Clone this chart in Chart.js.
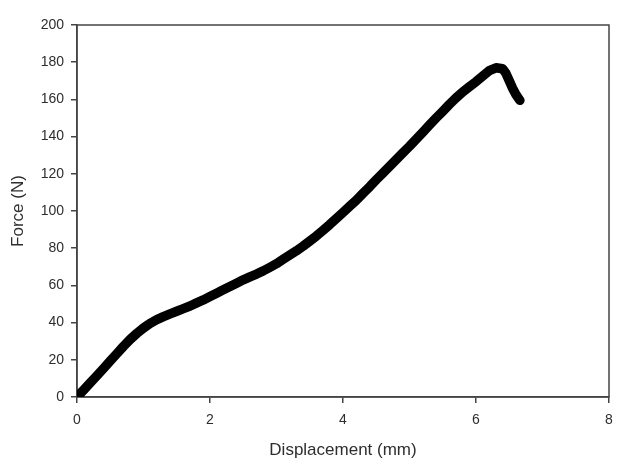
<!DOCTYPE html>
<html>
<head>
<meta charset="utf-8">
<title>Force vs Displacement</title>
<script src="https://cdn.jsdelivr.net/npm/chart.js@4.4.1/dist/chart.umd.min.js"></script>
<style>
    html, body { margin: 0; padding: 0; background: #ffffff; }
    #wrap { width: 624px; height: 469px; }
</style>
</head>
<body>
<div id="wrap"><canvas id="forceChart" width="624" height="469"></canvas></div>
<script>
// Displacement (mm)
var displacement = [
    0, 0.1, 0.2, 0.3, 0.4, 0.5, 0.6, 0.7, 0.8, 0.9,
    1.0, 1.1, 1.2, 1.3, 1.4, 1.5, 1.6, 1.7, 1.8, 1.9,
    2.0, 2.1, 2.2, 2.3, 2.4, 2.5, 2.6, 2.7, 2.8, 2.9,
    3.0, 3.1, 3.2, 3.3, 3.4, 3.5, 3.6, 3.7, 3.8, 3.9,
    4.0, 4.1, 4.2, 4.3, 4.4, 4.5, 4.6, 4.7, 4.8, 4.9,
    5.0, 5.1, 5.2, 5.3, 5.4, 5.5, 5.6, 5.7, 5.8, 5.9,
    6.0, 6.1, 6.2, 6.3, 6.4, 6.45, 6.5, 6.55, 6.6, 6.66
];

// Force (N)
var force = [
    0, 3.8, 7.6, 11.5, 15.4, 19.4, 23.3, 27.3, 31, 34.2,
    37.1, 39.6, 41.6, 43.2, 44.7, 46.1, 47.5, 48.9, 50.6, 52.2,
    54, 55.8, 57.6, 59.4, 61.2, 63, 64.6, 66.1, 67.8, 69.7,
    71.7, 74, 76.3, 78.6, 81.1, 83.8, 86.6, 89.6, 92.7, 96,
    99.2, 102.5, 105.8, 109.5, 113, 116.8, 120.4, 124, 127.6, 131.2,
    134.8, 138.6, 142.4, 146.2, 150, 153.6, 157.3, 160.8, 164, 166.8,
    169.5, 172.5, 175.5, 177, 176.5, 174, 170, 166, 162.6, 159.5
];

var xTicks = [ 0, 2, 4, 6, 8 ];
var yTicks = [ 0, 20, 40, 60, 80, 100, 120, 140, 160, 180, 200 ];

var fontFamily = 'Arial, "Liberation Sans", Helvetica, sans-serif';
var textColor = '#2e2e2e';
var axisColor = '#444444';

// Draw the box round the plot area
var frameBox = {
    id: 'frameBox',
    beforeDatasetsDraw: function ( chart )
    {
        var area = chart.chartArea;
        var ctx = chart.ctx;
        ctx.save();
        ctx.strokeStyle = axisColor;
        ctx.lineWidth = 1.5;
        ctx.strokeRect( area.left, area.top, area.right - area.left, area.bottom - area.top );
        ctx.restore();
    }
};

var points = displacement.map( function ( x, i )
{
    return { x: x, y: force[ i ] };
} );

new Chart( document.getElementById( 'forceChart' ).getContext( '2d' ), {
    type: 'scatter',
    data: {
        datasets: [ {
            data: points,
            showLine: true,
            borderColor: '#000000',
            backgroundColor: '#000000',
            borderWidth: 9.5,
            borderCapStyle: 'round',
            borderJoinStyle: 'round',
            pointRadius: 0,
            tension: 0
        } ]
    },
    plugins: [ frameBox ],
    options: {
        responsive: false,
        animation: false,
        layout: {
            padding: { top: 25, right: 15, left: 0, bottom: 0 }
        },
        plugins: {
            legend: { display: false },
            tooltip: { enabled: false }
        },
        scales: {
            x: {
                type: 'linear',
                min: 0,
                max: 8,
                afterBuildTicks: function ( scale )
                {
                    scale.ticks = xTicks.map( function ( v ) { return { value: v }; } );
                },
                afterFit: function ( scale )
                {
                    scale.height = 72;
                },
                grid: {
                    drawOnChartArea: false,
                    drawTicks: true,
                    tickLength: 6,
                    color: axisColor,
                    lineWidth: 1.5
                },
                border: { display: true, color: axisColor, width: 1.5 },
                ticks: {
                    padding: 9,
                    color: textColor,
                    maxRotation: 0,
                    font: { family: fontFamily, size: 14 }
                },
                title: {
                    display: true,
                    text: 'Displacement (mm)',
                    color: textColor,
                    padding: { top: 0, bottom: 8 },
                    font: { family: fontFamily, size: 17 }
                }
            },
            y: {
                type: 'linear',
                min: 0,
                max: 200,
                afterBuildTicks: function ( scale )
                {
                    scale.ticks = yTicks.map( function ( v ) { return { value: v }; } );
                },
                afterFit: function ( scale )
                {
                    scale.width = 77;
                },
                grid: {
                    drawOnChartArea: false,
                    drawTicks: true,
                    tickLength: 6,
                    color: axisColor,
                    lineWidth: 1.5
                },
                border: { display: true, color: axisColor, width: 1.5 },
                ticks: {
                    padding: 7,
                    color: textColor,
                    font: { family: fontFamily, size: 14 }
                },
                title: {
                    display: true,
                    text: 'Force (N)',
                    color: textColor,
                    padding: { top: 8, bottom: 0 },
                    font: { family: fontFamily, size: 17 }
                }
            }
        }
    }
} );
</script>
</body>
</html>
